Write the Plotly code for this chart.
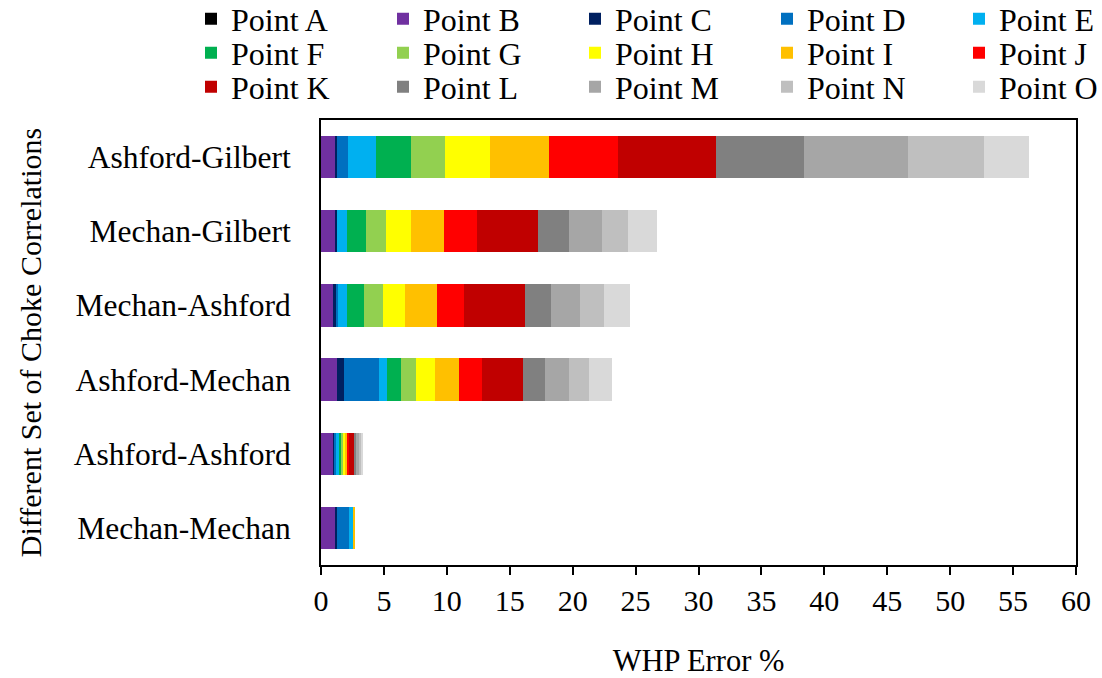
import plotly.graph_objects as go

categories = ["Ashford-Gilbert", "Mechan-Gilbert", "Mechan-Ashford",
              "Ashford-Mechan", "Ashford-Ashford", "Mechan-Mechan"]

point_names = ["Point A", "Point B", "Point C", "Point D", "Point E",
               "Point F", "Point G", "Point H", "Point I", "Point J",
               "Point K", "Point L", "Point M", "Point N", "Point O"]

point_a = [0.00, 0.00, 0.00, 0.00, 0.00, 0.00]
point_b = [1.17, 1.19, 1.03, 1.25, 1.03, 1.17]
point_c = [0.10, 0.08, 0.13, 0.60, 0.08, 0.10]
point_d = [0.88, 0.00, 0.16, 2.76, 0.08, 0.96]
point_e = [2.24, 0.80, 0.72, 0.61, 0.24, 0.37]
point_f = [2.76, 1.51, 1.38, 1.16, 0.16, 0.00]
point_g = [2.70, 1.59, 1.51, 1.17, 0.13, 0.00]
point_h = [3.60, 1.96, 1.72, 1.51, 0.18, 0.00]
point_i = [4.67, 2.67, 2.54, 1.93, 0.16, 0.08]
point_j = [5.51, 2.57, 2.20, 1.83, 0.18, 0.00]
point_k = [7.79, 4.88, 4.82, 3.23, 0.37, 0.00]
point_l = [6.97, 2.43, 2.07, 1.75, 0.21, 0.00]
point_m = [8.26, 2.65, 2.30, 1.93, 0.18, 0.00]
point_n = [6.04, 2.09, 1.91, 1.57, 0.16, 0.00]
point_o = [3.60, 2.31, 2.09, 1.80, 0.18, 0.00]

series = [point_a, point_b, point_c, point_d, point_e, point_f, point_g, point_h,
          point_i, point_j, point_k, point_l, point_m, point_n, point_o]

colors = ["#000000", "#7030A0", "#002060", "#0070C0", "#00B0F0",
          "#00B050", "#92D050", "#FFFF00", "#FFC000", "#FF0000",
          "#C00000", "#808080", "#A6A6A6", "#BFBFBF", "#D9D9D9"]

x_ticks = [0, 5, 10, 15, 20, 25, 30, 35, 40, 45, 50, 55, 60]

FONT = "Liberation Serif, Times New Roman, serif"

fig = go.Figure()
legend_ids = ["legend", "legend2", "legend3"]
for idx, (name, vals, col) in enumerate(zip(point_names, series, colors)):
    fig.add_trace(go.Bar(
        y=categories, x=vals, name=name, orientation="h",
        marker=dict(color=col, line=dict(width=0)),
        legend=legend_ids[idx // 5],
    ))

W, H = 1102, 678
ml, mr, mt, mb = 321, 26, 120, 113
plot_w = W - ml - mr
plot_h = H - mt - mb

def leg(row_center_px):
    return dict(
        orientation="h",
        xref="paper", yref="paper",
        x=(191 - ml) / plot_w, xanchor="left",
        y=(H - mb - row_center_px) / plot_h, yanchor="middle",
        entrywidth=147, entrywidthmode="pixels",
        font=dict(family=FONT, size=32, color="black"),
        bgcolor="rgba(0,0,0,0)",
        traceorder="normal",
    )

fig.update_layout(
    width=W, height=H,
    margin=dict(l=ml, r=mr, t=mt, b=mb, autoexpand=False),
    barmode="stack",
    bargap=0.43,
    plot_bgcolor="white",
    paper_bgcolor="white",
    font=dict(family=FONT, size=30, color="black"),
    legend=leg(19),
    legend2=leg(53),
    legend3=leg(87),
)

fig.update_xaxes(
    range=[0, 60], tickvals=x_ticks,
    ticks="outside", ticklen=8, tickwidth=1.5, tickcolor="black",
    showline=True, linecolor="black", linewidth=1.5, mirror=True,
    showgrid=False, zeroline=False,
    tickfont=dict(family=FONT, size=30, color="black"),
    title=dict(text="WHP Error %", font=dict(family=FONT, size=30.5, color="black"), standoff=34),
)
fig.update_yaxes(
    autorange="reversed",
    ticks="", showline=True, linecolor="black", linewidth=2, mirror=True,
    showgrid=False, zeroline=False,
    ticklabelstandoff=22,
    tickfont=dict(family=FONT, size=31.5, color="black"),
    title=dict(text="Different Set of Choke Correlations",
               font=dict(family=FONT, size=30, color="black"), standoff=23),
)

fig.write_html("out.html", config={"displayModeBar": False},
               post_script="document.body.style.margin='0';document.body.style.overflow='hidden';")
